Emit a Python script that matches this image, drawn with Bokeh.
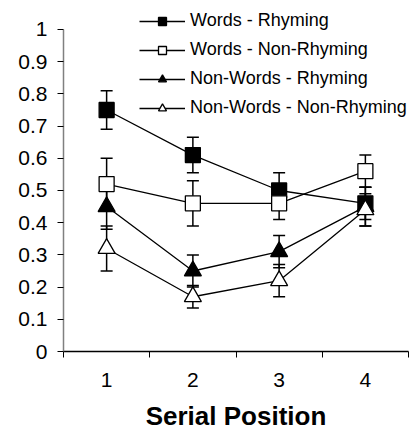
from bokeh.plotting import figure
from bokeh.models import (ColumnDataSource, Whisker, TeeHead, FixedTicker,
                          CustomJSTickFormatter, Range1d, Legend, LegendItem)
from bokeh.embed import file_html
from bokeh.resources import INLINE

positions = [1, 2, 3, 4]
series_names = ["Words - Rhyming", "Words - Non-Rhyming",
                "Non-Words - Rhyming", "Non-Words - Non-Rhyming"]
words_rhyming = [0.75, 0.61, 0.50, 0.46]
words_rhyming_err = [0.06, 0.055, 0.055, 0.05]
words_nonrhyming = [0.52, 0.46, 0.46, 0.56]
words_nonrhyming_err = [0.08, 0.07, 0.05, 0.05]
nonwords_rhyming = [0.45, 0.25, 0.31, 0.45]
nonwords_rhyming_err = [0.07, 0.05, 0.05, 0.06]
nonwords_nonrhyming = [0.32, 0.17, 0.22, 0.44]
nonwords_nonrhyming_err = [0.07, 0.035, 0.05, 0.05]
y_ticks = [0, 0.1, 0.2, 0.3, 0.4, 0.5, 0.6, 0.7, 0.8, 0.9, 1.0]

FONT = "Liberation Sans"

p = figure(width=412, height=437, output_backend="svg", toolbar_location=None,
           x_range=Range1d(0.5, 4.5), y_range=Range1d(0, 1.0807),
           min_border_left=63, min_border_right=4, min_border_top=3,
           min_border_bottom=86)
p.outline_line_color = None
p.grid.visible = False
p.background_fill_color = "white"
p.border_fill_color = "white"

styles = [
    ("square", "black", 15, words_rhyming, words_rhyming_err),
    ("square", "white", 15, words_nonrhyming, words_nonrhyming_err),
    ("triangle", "black", 17, nonwords_rhyming, nonwords_rhyming_err),
    ("triangle", "white", 17, nonwords_nonrhyming, nonwords_nonrhyming_err),
]

items = []
for name, (marker, fill, msize, vals, errs) in zip(series_names, styles):
    src = ColumnDataSource(dict(
        x=positions, y=vals,
        lo=[v - e for v, e in zip(vals, errs)],
        hi=[v + e for v, e in zip(vals, errs)],
    ))
    w = Whisker(source=src, base="x", lower="lo", upper="hi",
                line_color="black", line_width=1.5,
                upper_head=TeeHead(size=12, line_color="black", line_width=1.5),
                lower_head=TeeHead(size=12, line_color="black", line_width=1.5))
    p.add_layout(w)
    ln = p.line("x", "y", source=src, line_color="black", line_width=1.3)
    sc = p.scatter("x", "y", source=src, marker=marker, size=msize,
                   fill_color=fill, line_color="black", line_width=1.3)
    items.append(LegendItem(label=name, renderers=[ln, sc]))

legend = Legend(items=items, location=(76, 233),
                glyph_width=46, glyph_height=20, label_height=20,
                spacing=8, padding=6, label_standoff=5,
                label_text_font=FONT, label_text_font_size="18px",
                label_text_color="black",
                background_fill_color="white", background_fill_alpha=1,
                border_line_color=None)
p.add_layout(legend)

# y axis
ya = p.yaxis[0]
ya.bounds = (0, 1)
ya.ticker = FixedTicker(ticks=y_ticks, minor_ticks=[])
ya.formatter = CustomJSTickFormatter(
    code="var s = tick.toFixed(1); return s.replace(/\\.0$/, '');")
ya.axis_line_color = "#808080"
ya.axis_line_width = 1.5
ya.major_tick_line_color = "black"
ya.major_tick_out = 6
ya.major_tick_in = 0
ya.major_label_text_font = FONT
ya.major_label_text_font_size = "21px"
ya.major_label_text_color = "black"
ya.major_label_standoff = 10

# x axis
xa = p.xaxis[0]
xa.ticker = FixedTicker(ticks=positions, minor_ticks=[0.5, 1.5, 2.5, 3.5, 4.5])
xa.axis_line_color = "black"
xa.axis_line_width = 1.3
xa.major_tick_out = 0
xa.major_tick_in = 0
xa.minor_tick_out = 6
xa.minor_tick_in = 0
xa.minor_tick_line_color = "black"
xa.major_label_text_font = FONT
xa.major_label_text_font_size = "21px"
xa.major_label_text_color = "black"
xa.major_label_standoff = 15
xa.axis_label = "Serial Position"
xa.axis_label_text_font = FONT
xa.axis_label_text_font_size = "26px"
xa.axis_label_text_font_style = "bold"
xa.axis_label_text_color = "black"
xa.axis_label_standoff = 11

open("out.html", "w").write(file_html(p, INLINE))
